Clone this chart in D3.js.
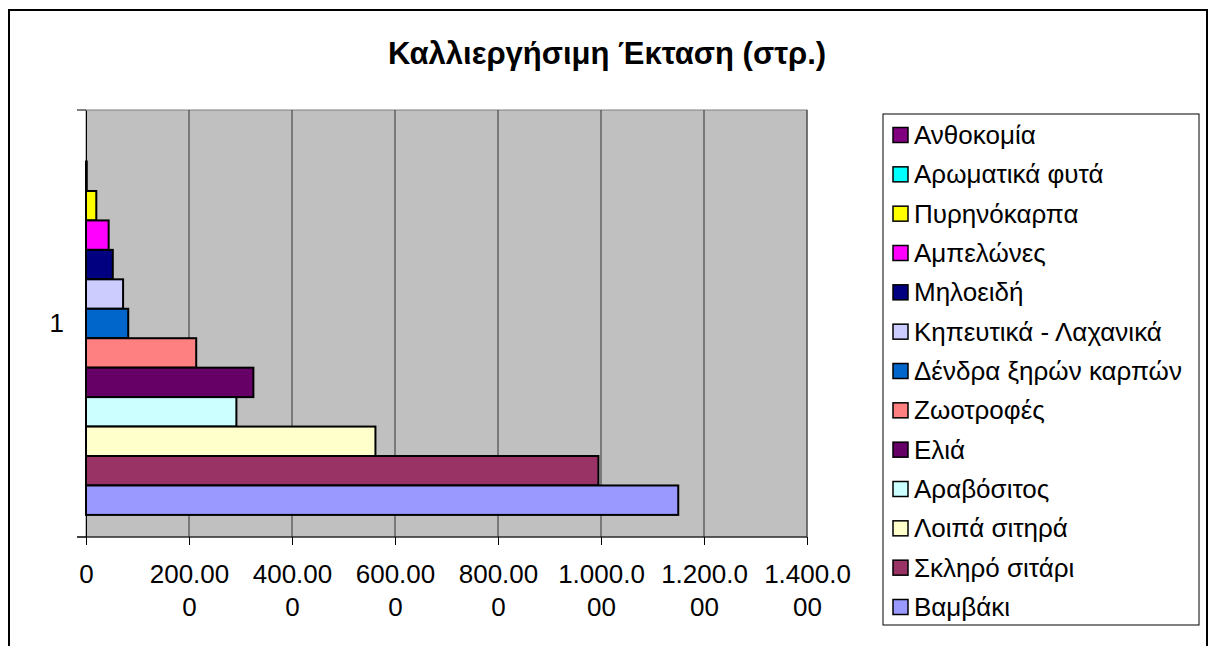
<!DOCTYPE html>
<meta charset="utf-8">

<!-- Load d3.js -->
<script src="https://d3js.org/d3.v7.min.js"></script>

<style>
  body { margin: 0; background: #fff; }
  text { font-family: "Liberation Sans", Arial, sans-serif; }
</style>

<!-- Create a div where the graph will take place -->
<div id="my_dataviz"></div>

<script>

// data: one category, 13 series (legend order = top to bottom)
var categories = ["1"];
var seriesNames = ["Ανθοκομία", "Αρωματικά φυτά", "Πυρηνόκαρπα", "Αμπελώνες", "Μηλοειδή",
  "Κηπευτικά - Λαχανικά", "Δένδρα ξηρών καρπών", "Ζωοτροφές", "Ελιά", "Αραβόσιτος",
  "Λοιπά σιτηρά", "Σκληρό σιτάρι", "Βαμβάκι"];
var seriesValues = [0, 1500, 20000, 44000, 52000, 72000, 82000, 214000, 325000, 292000,
  562000, 995000, 1150000];
var seriesColors = ["#800080", "#00FFFF", "#FFFF00", "#FF00FF", "#000080", "#CCCCFF",
  "#0066CC", "#FF8080", "#660066", "#CCFFFF", "#FFFFCC", "#993366", "#9999FF"];
var tickValues = [0, 200000, 400000, 600000, 800000, 1000000, 1200000, 1400000];
// the labels wrap in the original, keep the lines as they are
var tickLabels = [["0"], ["200.00", "0"], ["400.00", "0"], ["600.00", "0"], ["800.00", "0"],
  ["1.000.0", "00"], ["1.200.0", "00"], ["1.400.0", "00"]];

var W = 1214, H = 646;
var plot = {left: 86, right: 807, top: 110, bottom: 537};

var svg = d3.select("#my_dataviz")
  .append("svg")
    .attr("width", W)
    .attr("height", H);

// chart area border
svg.append("rect")
  .attr("x", 9).attr("y", 10)
  .attr("width", 1198).attr("height", 700)
  .style("fill", "#fff")
  .style("stroke", "#000")
  .style("stroke-width", 2);

// title
svg.append("text")
  .attr("x", 607)
  .attr("y", 64)
  .style("text-anchor", "middle")
  .style("font-weight", "bold")
  .style("font-size", "31px")
  .text("Καλλιεργήσιμη Έκταση (στρ.)");

// scales
var x = d3.scaleLinear()
  .domain([0, 1400000])
  .range([plot.left, plot.right]);

var y = d3.scaleBand()
  .domain(categories)
  .range([plot.top, plot.bottom]);

var ySub = d3.scaleBand()
  .domain(seriesNames)
  .range([y("1"), y("1") + y.bandwidth()])
  .paddingOuter(0.75);

// plot background
svg.append("rect")
  .attr("x", plot.left).attr("y", plot.top)
  .attr("width", plot.right - plot.left).attr("height", plot.bottom - plot.top)
  .style("fill", "#C0C0C0")
  .style("stroke", "#808080")
  .style("stroke-width", 1);

// vertical gridlines
svg.append("g")
  .selectAll("line")
  .data(tickValues.slice(1))
  .enter()
  .append("line")
    .attr("x1", function(d) { return x(d); })
    .attr("x2", function(d) { return x(d); })
    .attr("y1", plot.top)
    .attr("y2", plot.bottom)
    .style("stroke", "#333")
    .style("stroke-width", 1);

// bars
var bars = seriesNames.map(function(n, i) {
  return {name: n, value: seriesValues[i], color: seriesColors[i]};
});

svg.append("g")
  .selectAll("rect")
  .data(bars)
  .enter()
  .append("rect")
    .attr("x", x(0))
    .attr("y", function(d) { return ySub(d.name); })
    .attr("width", function(d) { return x(d.value) - x(0); })
    .attr("height", ySub.bandwidth())
    .style("fill", function(d) { return d.color; })
    .style("stroke", "#000")
    .style("stroke-width", 2);

// X axis
var xAxis = svg.append("g")
  .attr("transform", "translate(0," + plot.bottom + ")")
  .call(d3.axisBottom(x).tickValues(tickValues).tickSize(8).tickFormat(""));
xAxis.select(".domain").attr("d", "M77,0H" + plot.right);
xAxis.selectAll("line").style("stroke", "#000");

xAxis.selectAll(".tick")
  .append("text")
    .attr("fill", "#000")
    .style("font-size", "26px")
    .style("text-anchor", "middle")
    .each(function(d, i) {
      var t = d3.select(this);
      tickLabels[i].forEach(function(line, k) {
        t.append("tspan")
          .attr("x", 0)
          .attr("y", 46 + k * 33)
          .text(line);
      });
    });

// Y axis
var yAxis = svg.append("g")
  .attr("transform", "translate(" + plot.left + ",0)")
  .call(d3.axisLeft(y).tickSize(0).tickPadding(22));
yAxis.select(".domain").style("stroke", "#000");
yAxis.selectAll("text").style("font-size", "26px").attr("fill", "#000");

// category boundary ticks
svg.append("g")
  .selectAll("line")
  .data([plot.top, plot.bottom])
  .enter()
  .append("line")
    .attr("x1", 77).attr("x2", plot.left)
    .attr("y1", function(d) { return d; })
    .attr("y2", function(d) { return d; })
    .style("stroke", "#000");

// Handmade legend
var legend = svg.append("g");
legend.append("rect")
  .attr("x", 883).attr("y", 114)
  .attr("width", 316).attr("height", 511)
  .style("fill", "#fff")
  .style("stroke", "#000")
  .style("stroke-width", 1);

var ly = d3.scalePoint()
  .domain(seriesNames)
  .range([135, 607]);

legend.selectAll("rect.sw")
  .data(bars)
  .enter()
  .append("rect")
    .attr("class", "sw")
    .attr("x", 893)
    .attr("y", function(d) { return ly(d.name) - 7.5; })
    .attr("width", 15).attr("height", 15)
    .style("fill", function(d) { return d.color; })
    .style("stroke", "#000")
    .style("stroke-width", 1.5);

legend.selectAll("text")
  .data(bars)
  .enter()
  .append("text")
    .attr("x", 914)
    .attr("y", function(d) { return ly(d.name); })
    .attr("dy", "0.35em")
    .style("font-size", "26px")
    .text(function(d) { return d.name; });

</script>
